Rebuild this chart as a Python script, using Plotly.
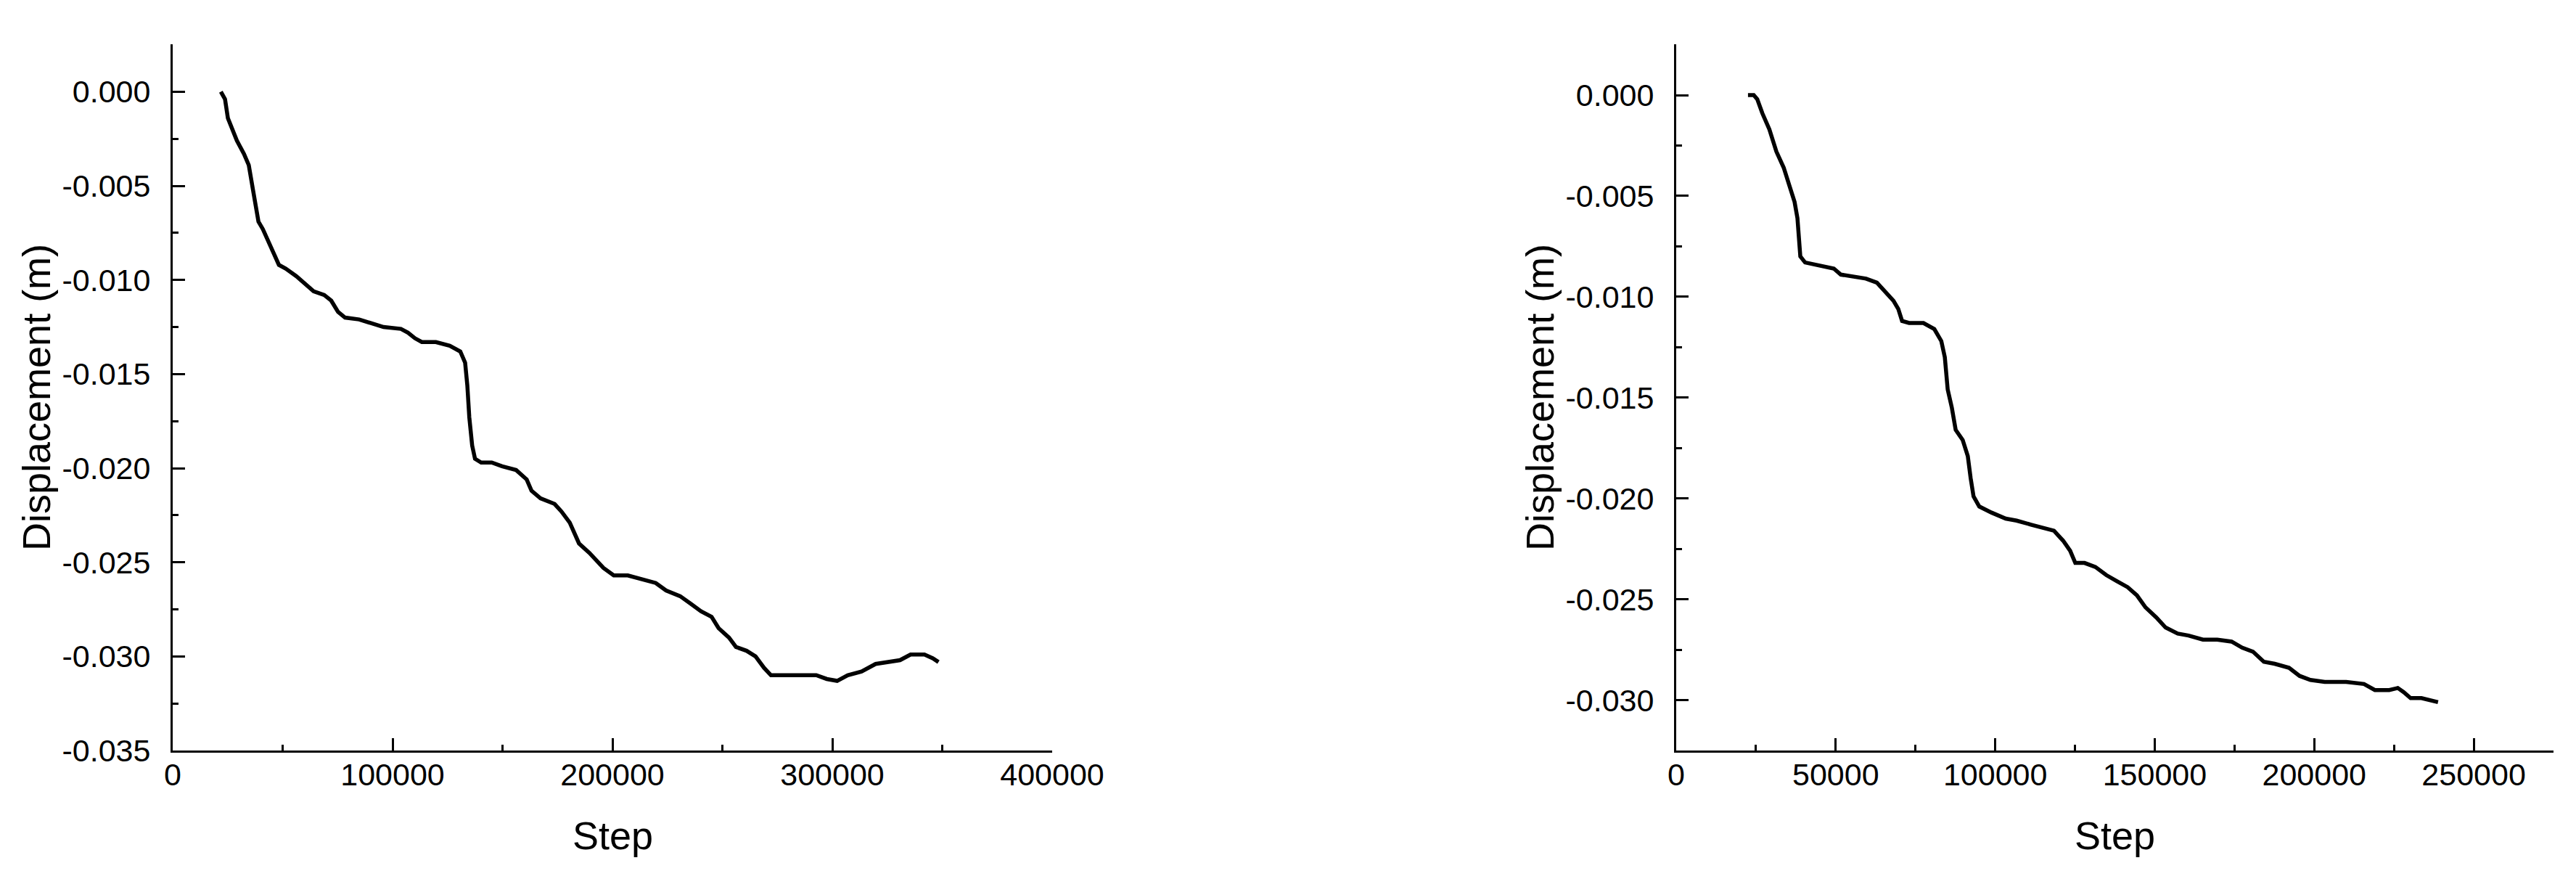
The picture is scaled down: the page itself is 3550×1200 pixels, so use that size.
import plotly.graph_objects as go
from plotly.subplots import make_subplots

# left run
step_a = [21900, 23800, 25100, 26700, 29200, 32400, 34600, 36500, 39000, 41000,
          43500, 46000, 48300, 51400, 56200, 61000, 64100, 68900, 72100, 75200,
          78400, 84800, 91100, 95900, 103800, 107000, 110200, 113300, 119700, 126000,
          130800, 133000, 134000, 134900, 136200, 137500, 140300, 145100, 149800, 156200,
          161000, 163200, 167300, 173700, 176800, 180600, 184800, 189500, 195900, 200600,
          207000, 213300, 219700, 224400, 230800, 235600, 240300, 245100, 248300, 253000,
          256200, 261000, 265100, 268900, 272100, 278400, 284800, 292700, 297500, 302200,
          307000, 313300, 319700, 326000, 330800, 335600, 341900, 345700, 348300]
disp_a = [0.0, -0.0004, -0.0014, -0.0019, -0.0026, -0.0033, -0.0039, -0.0052, -0.0069, -0.0073,
          -0.0079, -0.0086, -0.0092, -0.0094, -0.0098, -0.0103, -0.0106, -0.0108, -0.0111, -0.0117,
          -0.0120, -0.0121, -0.0123, -0.0125, -0.0126, -0.0128, -0.0131, -0.0133, -0.0133, -0.0135,
          -0.0138, -0.0144, -0.0156, -0.0173, -0.0188, -0.0195, -0.0197, -0.0197, -0.0199, -0.0201,
          -0.0206, -0.0212, -0.0216, -0.0219, -0.0223, -0.0229, -0.0240, -0.0245, -0.0253, -0.0257,
          -0.0257, -0.0259, -0.0261, -0.0265, -0.0268, -0.0272, -0.0276, -0.0279, -0.0285, -0.0290,
          -0.0295, -0.0297, -0.0300, -0.0306, -0.0310, -0.0310, -0.0310, -0.0310, -0.0312, -0.0313,
          -0.0310, -0.0308, -0.0304, -0.0303, -0.0302, -0.0299, -0.0299, -0.0301, -0.0303]

# right run
step_b = [22500, 24300, 25400, 27000, 29200, 31400, 33700, 35500, 37100, 38000,
          38400, 38900, 40400, 43800, 47200, 49400, 51600, 56200, 59500, 62900,
          65100, 68100, 69600, 70800, 73000, 77500, 80900, 83100, 84200, 85100,
          86400, 87600, 89800, 91400, 92300, 93200, 95000, 98800, 103300, 106700,
          111200, 115700, 118400, 121300, 123500, 125100, 128000, 131400, 134800, 138100,
          141500, 144400, 147100, 150500, 153400, 157200, 160600, 165100, 169600, 174100,
          177400, 180800, 184200, 187600, 192100, 195400, 198800, 203300, 210000, 215600,
          219000, 223500, 226200, 228000, 230200, 233600, 236500, 238800]
disp_b = [0.0, 0.0, -0.0002, -0.0009, -0.0017, -0.0028, -0.0036, -0.0045, -0.0053, -0.0061,
          -0.0072, -0.0080, -0.0083, -0.0084, -0.0085, -0.0086, -0.0089, -0.0090, -0.0091, -0.0093,
          -0.0097, -0.0102, -0.0106, -0.0112, -0.0113, -0.0113, -0.0116, -0.0122, -0.0130, -0.0146,
          -0.0155, -0.0166, -0.0171, -0.0179, -0.0190, -0.0199, -0.0204, -0.0207, -0.0210, -0.0211,
          -0.0213, -0.0215, -0.0216, -0.0221, -0.0226, -0.0232, -0.0232, -0.0234, -0.0238, -0.0241,
          -0.0244, -0.0248, -0.0254, -0.0259, -0.0264, -0.0267, -0.0268, -0.0270, -0.0270, -0.0271,
          -0.0274, -0.0276, -0.0281, -0.0282, -0.0284, -0.0288, -0.0290, -0.0291, -0.0291, -0.0292,
          -0.0295, -0.0295, -0.0294, -0.0296, -0.0299, -0.0299, -0.0300, -0.0301]

yticks_a = [0.0, -0.005, -0.010, -0.015, -0.020, -0.025, -0.030, -0.035]
ylabels_a = ["0.000", "-0.005", "-0.010", "-0.015", "-0.020", "-0.025", "-0.030", "-0.035"]
yticks_b = [0.0, -0.005, -0.010, -0.015, -0.020, -0.025, -0.030]
ylabels_b = ["0.000", "-0.005", "-0.010", "-0.015", "-0.020", "-0.025", "-0.030"]

W, H = 3550, 1200
FONT = "Liberation Sans, Arial, sans-serif"

fig = make_subplots(rows=1, cols=2)
fig.add_trace(go.Scatter(x=step_a, y=disp_a, mode="lines",
                         line=dict(color="black", width=5.5)), row=1, col=1)
fig.add_trace(go.Scatter(x=step_b, y=disp_b, mode="lines",
                         line=dict(color="black", width=5.5)), row=1, col=2)

ax_common = dict(showgrid=False, zeroline=False, showline=True, linecolor="black",
                 linewidth=3, ticks="inside", ticklen=17, tickwidth=3, tickcolor="black",
                 tickfont=dict(family=FONT, size=43, color="black"), automargin=False)
minor_y = dict(ticks="inside", ticklen=8, tickwidth=3, tickcolor="black",
               tickmode="linear", tick0=0, dtick=0.0025)

fig.update_xaxes(ax_common, tickformat="d", exponentformat="none", ticklabelstandoff=-7)
fig.update_yaxes(ax_common, ticklabelstandoff=19)

ydom = [1 - 1026 / H, 1 - 53 / H]
fig.update_xaxes(domain=[230 / W, 1442 / W], range=[0, 400000], tickmode="linear",
                 tick0=0, dtick=100000,
                 minor=dict(ticks="inside", ticklen=8, tickwidth=3, tickcolor="black",
                            tickmode="linear", tick0=0, dtick=50000),
                 row=1, col=1)
fig.update_xaxes(domain=[2302 / W, 3511 / W], range=[0, 275000], tickmode="linear",
                 tick0=0, dtick=50000,
                 minor=dict(ticks="inside", ticklen=8, tickwidth=3, tickcolor="black",
                            tickmode="linear", tick0=0, dtick=25000),
                 row=1, col=2)
fig.update_yaxes(domain=ydom, range=[-0.035, 0.00252], tickmode="array",
                 tickvals=yticks_a, ticktext=ylabels_a, minor=minor_y, row=1, col=1)
fig.update_yaxes(domain=ydom, range=[-0.0325, 0.00252], tickmode="array",
                 tickvals=yticks_b, ticktext=ylabels_b, minor=minor_y, row=1, col=2)

title_font = dict(family=FONT, size=54, color="black")
for xc in (42 / W, 2114 / W):
    fig.add_annotation(text="Displacement (m)", xref="paper", yref="paper",
                       x=xc, y=1 - 540 / H, textangle=-90, showarrow=False,
                       xanchor="center", yanchor="middle", font=title_font)
for xc in ((230 + 1442) / 2 / W, (2302 + 3511) / 2 / W):
    fig.add_annotation(text="Step", xref="paper", yref="paper",
                       x=xc, y=1 - 1143 / H, showarrow=False,
                       xanchor="center", yanchor="middle", font=title_font)

fig.update_layout(width=W, height=H, showlegend=False,
                  margin=dict(l=0, r=0, t=0, b=0),
                  paper_bgcolor="white", plot_bgcolor="white")

fig.write_html("out.html")
